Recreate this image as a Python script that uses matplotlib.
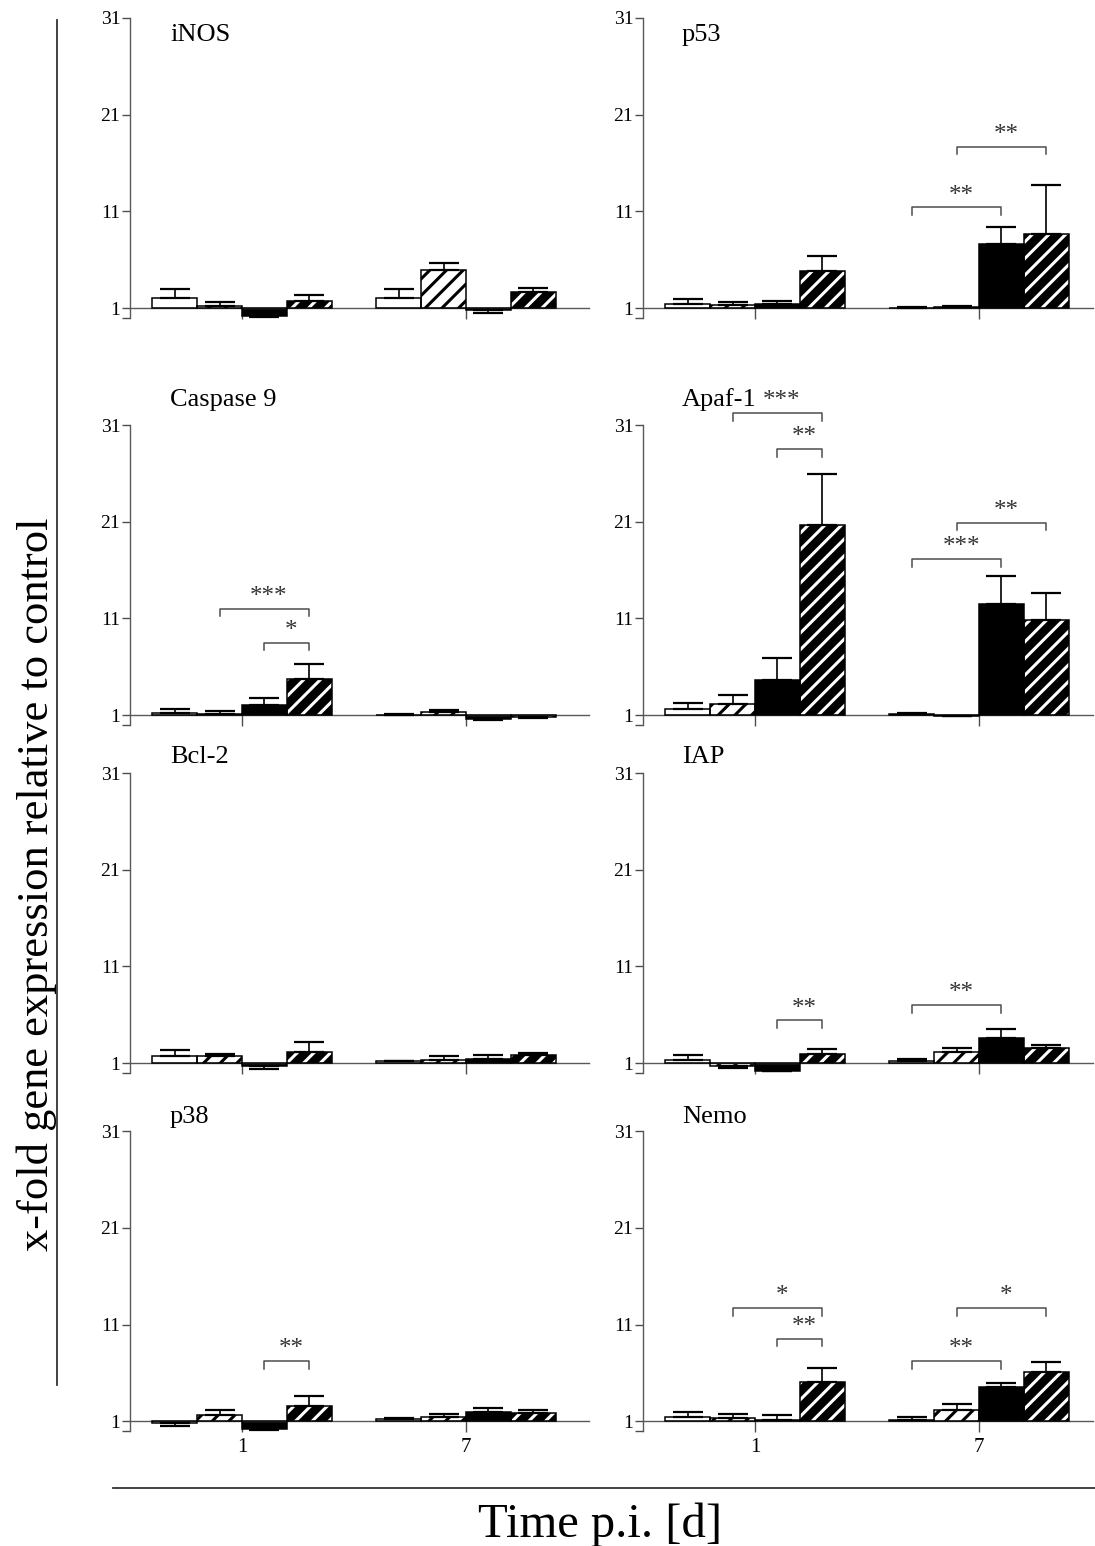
import numpy as np
import matplotlib
matplotlib.use("Agg")
import matplotlib.pyplot as plt
from matplotlib.lines import Line2D

plt.rcParams['font.family'] = ['Liberation Serif', 'DejaVu Serif']
plt.rcParams['hatch.linewidth'] = 2.2

W, H = 1095, 1546

genes = ['iNOS', 'p53', 'Caspase 9', 'Apaf-1', 'Bcl-2', 'IAP', 'p38', 'Nemo']
days = ['1', '7']

# mean fold change, 4 groups per day (white, white/hatch, black, black/hatch)
day1_mean = {
    'iNOS':      [2.00, 1.24, 0.17, 1.75],
    'p53':       [1.41, 1.31, 1.38, 4.80],
    'Caspase 9': [1.20, 1.10, 2.03, 4.76],
    'Apaf-1':    [1.59, 2.14, 4.66, 20.70],
    'Bcl-2':     [1.68, 1.68, 0.72, 2.17],
    'IAP':       [1.35, 0.73, 0.21, 1.97],
    'p38':       [0.86, 1.62, 0.21, 2.63],
    'Nemo':      [1.42, 1.31, 1.14, 5.05],
}
day1_err = {
    'iNOS':      [1.00, 0.41, 0.12, 0.55],
    'p53':       [0.52, 0.31, 0.31, 1.60],
    'Caspase 9': [0.42, 0.30, 0.77, 1.51],
    'Apaf-1':    [0.69, 0.96, 2.22, 5.20],
    'Bcl-2':     [0.69, 0.25, 0.34, 0.96],
    'IAP':       [0.52, 0.21, 0.06, 0.52],
    'p38':       [0.38, 0.56, 0.06, 0.97],
    'Nemo':      [0.58, 0.42, 0.52, 1.48],
}
day7_mean = {
    'iNOS':      [2.00, 4.93, 0.80, 2.62],
    'p53':       [1.05, 1.10, 7.58, 8.64],
    'Caspase 9': [1.05, 1.28, 0.63, 0.76],
    'Apaf-1':    [1.15, 0.90, 12.48, 10.82],
    'Bcl-2':     [1.17, 1.34, 1.44, 1.86],
    'IAP':       [1.17, 2.10, 3.62, 2.55],
    'p38':       [1.20, 1.49, 2.00, 1.83],
    'Nemo':      [1.10, 2.20, 4.53, 6.12],
}
day7_err = {
    'iNOS':      [1.00, 0.77, 0.35, 0.48],
    'p53':       [0.05, 0.10, 1.76, 5.11],
    'Caspase 9': [0.03, 0.24, 0.15, 0.06],
    'Apaf-1':    [0.05, 0.05, 2.87, 2.80],
    'Bcl-2':     [0.05, 0.34, 0.35, 0.14],
    'IAP':       [0.28, 0.45, 0.89, 0.31],
    'p38':       [0.11, 0.24, 0.35, 0.38],
    'Nemo':      [0.38, 0.63, 0.48, 0.97],
}

# significance brackets: (day index, bar i, bar j, height, label)
brackets = {
    'p53':       [(1, 0, 2, 11.4, '**'), (1, 1, 3, 17.7, '**')],
    'Caspase 9': [(0, 1, 3, 12.0, '***'), (0, 2, 3, 8.5, '*')],
    'Apaf-1':    [(0, 1, 3, 32.2, '***'), (0, 2, 3, 28.5, '**'),
                  (1, 0, 2, 17.1, '***'), (1, 1, 3, 20.9, '**')],
    'IAP':       [(0, 2, 3, 5.4, '**'), (1, 0, 2, 7.0, '**')],
    'p38':       [(0, 2, 3, 7.2, '**')],
    'Nemo':      [(0, 1, 3, 12.7, '*'), (0, 2, 3, 9.55, '**'),
                  (1, 0, 2, 7.2, '**'), (1, 1, 3, 12.7, '*')],
}

yticks = [1, 11, 21, 31]
bar_w = 0.2
offsets = [-0.3, -0.1, 0.1, 0.3]
styles = [('white', 'black', ''), ('white', 'black', '//'),
          ('black', 'black', ''), ('black', 'white', '//')]

fig = plt.figure(figsize=(W / 100, H / 100), dpi=100)

col_left = [130, 643]
col_width = [459, 450]
row_zero = [317.7, 724.7, 1072.7, 1431.0]   # pixel y of value 0
row_h = 299.7
title_y = [35, 400, 757, 1117]
title_x = [170, 682]

for k, g in enumerate(genes):
    r, c = divmod(k, 2)
    ax = fig.add_axes([col_left[c] / W, 1 - row_zero[r] / H,
                       col_width[c] / W, row_h / H])
    ax.set_xlim(-0.5, -0.5 + col_width[c] / 224.0)
    ax.set_ylim(0, 31)

    for d, (means, errs) in enumerate([(day1_mean[g], day1_err[g]),
                                       (day7_mean[g], day7_err[g])]):
        for i in range(4):
            x = d + offsets[i]
            m = means[i]
            fc, hc, hatch = styles[i]
            ax.bar(x, m - 1, bottom=1, width=bar_w, color=fc,
                   edgecolor=hc, hatch=hatch, linewidth=0, zorder=2)
            ax.bar(x, m - 1, bottom=1, width=bar_w, fill=False,
                   edgecolor='black', linewidth=1.1, zorder=3)
            lo = errs[i] if m < 1 else 0
            hi = errs[i] if m >= 1 else 0
            ax.errorbar(x, m, yerr=[[lo], [hi]], fmt='none', ecolor='black',
                        elinewidth=1.2, capsize=11, capthick=1.6, zorder=4)

    for d, i, j, yb, lab in brackets.get(g, []):
        x1, x2 = d + offsets[i], d + offsets[j]
        ax.plot([x1, x1, x2, x2], [yb - 0.8, yb, yb, yb - 0.8],
                color='0.3', lw=1.1, clip_on=False, zorder=5)
        ax.text((x1 + x2) / 2 + 0.02, yb + 0.1, lab, ha='center', va='bottom',
                fontsize=18, color='0.2', clip_on=False)

    for s in ['top', 'right']:
        ax.spines[s].set_visible(False)
    ax.spines['bottom'].set_position(('data', 1))
    ax.spines['bottom'].set_color('0.35')
    ax.spines['left'].set_color('0.35')
    ax.spines['bottom'].set_linewidth(1.0)
    ax.spines['left'].set_linewidth(1.0)

    ax.set_yticks([0] + yticks)
    ax.set_yticklabels([''] + [str(t) for t in yticks])
    ax.tick_params(axis='y', direction='out', length=6, width=1,
                   color='0.3', labelsize=14, pad=1)
    ax.set_xticks([0, 1])
    if r == 3:
        ax.set_xticklabels(days)
    else:
        ax.set_xticklabels(['', ''])
    ax.tick_params(axis='x', direction='out', length=8, width=1,
                   color='0.3', labelsize=15, pad=4)

    fig.text(title_x[c] / W, 1 - title_y[r] / H, g, fontsize=19,
             ha='left', va='center')

# shared axis labels with separator lines
fig.text(37 / W, 1 - 884 / H, 'x-fold gene expression relative to control',
         rotation=90, ha='center', va='center', fontsize=32)
fig.add_artist(Line2D([57 / W, 57 / W], [1 - 20 / H, 1 - 1385 / H],
                      color='0.2', lw=1.3))
fig.add_artist(Line2D([113 / W, 1095 / W], [1 - 1488 / H, 1 - 1488 / H],
                      color='0.2', lw=1.3))
fig.text(600 / W, 1 - 1525 / H, 'Time p.i. [d]', ha='center', va='center',
         fontsize=35)

fig.savefig('out.png', dpi=100)
